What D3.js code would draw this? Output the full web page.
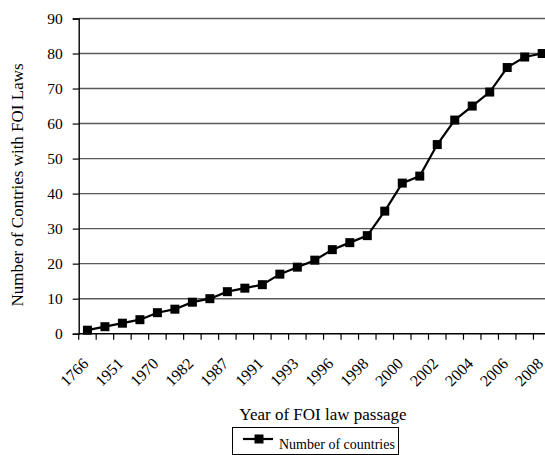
<!DOCTYPE html>
<html><head><meta charset="utf-8">
<script src="https://cdn.jsdelivr.net/npm/d3@7"></script>
<style>body{margin:0;background:#fff}svg{display:block}text{font-family:"Liberation Serif","Times New Roman",serif !important;fill:#000}</style>
</head><body>
<svg id="c" width="545" height="455"></svg>
<script>
const tickLabels = ["1766","1951","1970","1982","1987","1991","1993","1996","1998","2000","2002","2004","2006","2008"];
const values = [1,2,3,4,6,7,9,10,12,13,14,17,19,21,24,26,28,35,43,45,54,61,65,69,76,79,80];
const yTicks = [0,10,20,30,40,50,60,70,80,90];
const seriesName = "Number of countries";

(function(){
const svg = d3.select("#c");
const FF = "'Liberation Serif', 'Times New Roman', serif";
const mLeft = 78.7, mTop = 18.5, mBottom = 333.7, bandW = 17.49;
const n = values.length;
const x = d3.scaleBand().domain(d3.range(n)).range([mLeft, mLeft + n*bandW]).padding(0);
const y = d3.scaleLinear().domain([0,90]).range([mBottom, mTop]);

// gridlines
svg.append("g").selectAll("line").data(yTicks.filter(d=>d>0)).join("line")
  .attr("x1", mLeft).attr("x2", 545).attr("y1", d=>y(d)).attr("y2", d=>y(d))
  .attr("stroke", "#5a5a5a").attr("stroke-width", 1.4);

// y axis
const ya = svg.append("g").attr("transform", `translate(${mLeft},0)`)
  .call(d3.axisLeft(y).tickValues(yTicks).tickSize(6).tickPadding(10));
ya.attr("font-family", FF);
ya.select(".domain").attr("stroke", "#000").attr("stroke-width", 1.4);
ya.selectAll(".tick line").attr("stroke", "#000").attr("stroke-width", 1.2);
ya.selectAll("text").style("font-size","15.5px").style("font-family", FF);

// x axis
const xa = svg.append("g").attr("transform", `translate(0,${mBottom})`);
xa.append("line").attr("x1", mLeft).attr("x2", 545).attr("stroke", "#000").attr("stroke-width", 1.4);
xa.selectAll("line.t").data(d3.range(n+1)).join("line").attr("class","t")
  .attr("x1", d => mLeft + d*bandW).attr("x2", d => mLeft + d*bandW)
  .attr("y1", 0).attr("y2", 6).attr("stroke","#000").attr("stroke-width",1.2);
xa.selectAll("text").data(tickLabels).join("text")
  .attr("transform", (d,i) => `translate(${x(i*2)+x.bandwidth()/2+2},${31}) rotate(-45)`)
  .attr("text-anchor","end")
  .style("font-size","16px").style("font-family", FF).text(d=>d);

// line
const line = d3.line().x((d,i)=>x(i)+x.bandwidth()/2).y(d=>y(d));
svg.append("path").datum(values).attr("d", line).attr("fill","none")
  .attr("stroke","#000").attr("stroke-width",2.2);
svg.append("g").selectAll("rect").data(values).join("rect")
  .attr("x",(d,i)=>x(i)+x.bandwidth()/2-4.5).attr("y",d=>y(d)-4.5)
  .attr("width",9).attr("height",9).attr("fill","#000");

// axis titles
svg.append("text").attr("transform","translate(23,185) rotate(-90)")
  .attr("text-anchor","middle").style("font-size","17px").style("font-family", FF)
  .text("Number of Contries with FOI Laws");
svg.append("text").attr("x",323).attr("y",420).attr("text-anchor","middle")
  .style("font-size","17px").style("font-family", FF).text("Year of FOI law passage");

// legend
const lg = svg.append("g");
lg.append("rect").attr("x",232.5).attr("y",427.5).attr("width",166).attr("height",27)
  .attr("fill","none").attr("stroke","#000").attr("stroke-width",1);
lg.append("line").attr("x1",243).attr("x2",273).attr("y1",439).attr("y2",439)
  .attr("stroke","#000").attr("stroke-width",2.2);
lg.append("rect").attr("x",254.5).attr("y",434.5).attr("width",9).attr("height",9).attr("fill","#000");
lg.append("text").attr("x",279).attr("y",449).style("font-size","14px").style("font-family", FF).text(seriesName);
})();
</script>
</body></html>
